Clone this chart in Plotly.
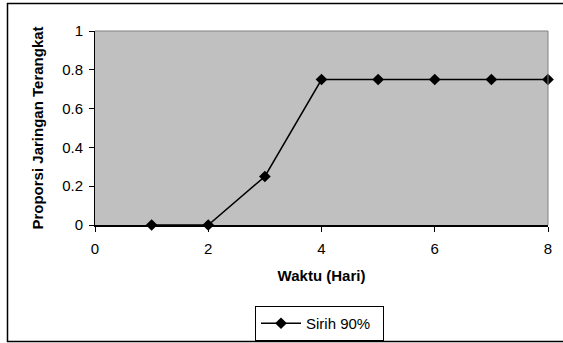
import plotly.graph_objects as go

days = [1, 2, 3, 4, 5, 6, 7, 8]
proporsi = [0, 0, 0.25, 0.75, 0.75, 0.75, 0.75, 0.75]
series_name = "Sirih 90%"
x_title = "Waktu (Hari)"
y_title = "Proporsi Jaringan Terangkat"

W, H = 563, 343
L, R, T, B = 95, 15, 31, 118
pw, ph = W - L - R, H - T - B

def px2x(px):
    return (px - L) / pw

def py2y(py):
    return (H - B - py) / ph

FONT = "Liberation Sans, Arial, sans-serif"

fig = go.Figure()
fig.add_trace(go.Scatter(
    x=days, y=proporsi, name=series_name, mode="lines+markers",
    line=dict(color="black", width=1.5),
    marker=dict(symbol="diamond", size=9, color="black"),
    cliponaxis=False,
))

fig.update_layout(
    width=W, height=H,
    margin=dict(l=L, r=R, t=T, b=B, autoexpand=False),
    paper_bgcolor="white", plot_bgcolor="#C0C0C0",
    font=dict(family=FONT, size=15, color="black"),
    showlegend=True,
    legend=dict(
        x=px2x(255), y=py2y(306), xanchor="left", yanchor="top",
        bordercolor="black", borderwidth=1, bgcolor="white",
        font=dict(size=15), itemwidth=40,
        orientation="h", entrywidth=72, entrywidthmode="pixels",
    ),
    xaxis=dict(
        range=[0, 8], dtick=2, showgrid=False, zeroline=False,
        showline=True, linecolor="black", linewidth=1.5,
        ticks="outside", ticklen=5, tickcolor="black",
        ticklabelstandoff=4, automargin=False,
        tickfont=dict(size=15),
        title=dict(text="<b>" + x_title + "</b>", font=dict(size=15), standoff=15),
    ),
    yaxis=dict(
        range=[0, 1], dtick=0.2, showgrid=False, zeroline=False,
        showline=True, linecolor="black", linewidth=1,
        ticks="outside", ticklen=5, tickcolor="black",
        ticklabelstandoff=3, automargin=False,
        tickfont=dict(size=15),
        title=dict(text="<b>" + y_title + "</b>", font=dict(size=15), standoff=14),
    ),
    shapes=[
        dict(type="line", xref="paper", yref="paper", x0=0, y0=1, x1=1, y1=1,
             line=dict(color="#808080", width=1)),
        dict(type="line", xref="paper", yref="paper", x0=1, y0=0, x1=1, y1=1,
             line=dict(color="#808080", width=1)),
        dict(type="rect", xref="paper", yref="paper",
             x0=px2x(7.5), y0=py2y(341.5), x1=px2x(575), y1=py2y(3.5),
             line=dict(color="black", width=1.5), layer="below"),
    ],
)

fig.write_html("out.html")
